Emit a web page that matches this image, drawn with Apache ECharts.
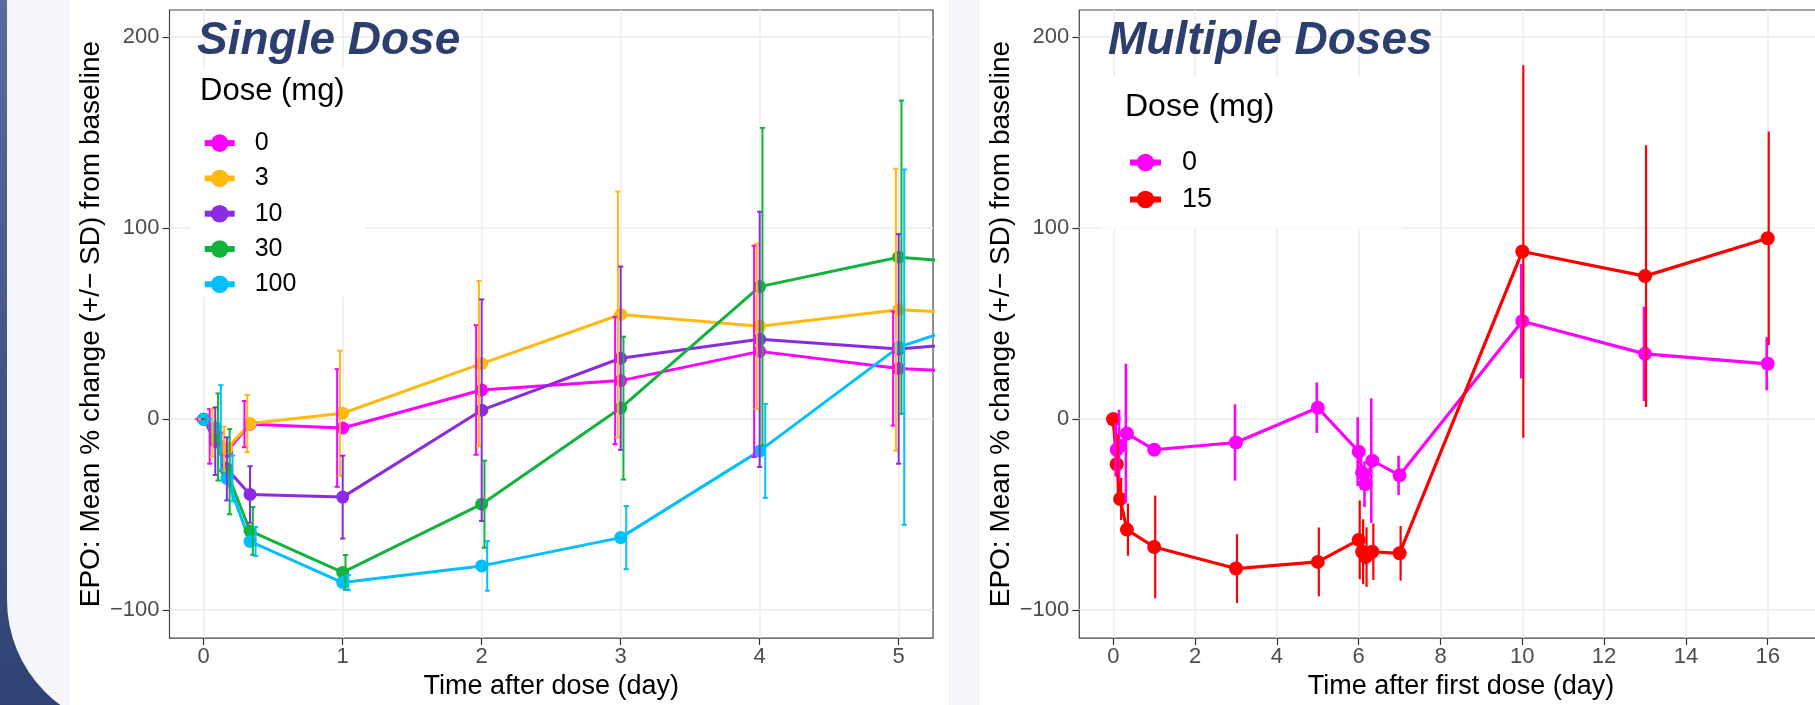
<!DOCTYPE html>
<html>
<head>
<meta charset="utf-8">
<script src="https://cdn.jsdelivr.net/npm/echarts@6/dist/echarts.min.js"></script>
<style>
html,body{margin:0;padding:0;background:#fff;overflow:hidden;width:1815px;height:705px;}
#chart{width:1870px;height:705px;}
</style>
</head>
<body>
<div id="chart"></div>
<script>
// ---------- DATA ----------
// Single dose panel
const singleDoses = ['0', '3', '10', '30', '100'];
const singleTimes = [0, 0.0833, 0.1667, 0.3333, 1, 2, 3, 4, 5, 7];
const single0Mean   = [0, -9,   -17,  -2.6, -4.6, 15.3, 20.2, 35.5, 26.5, 19.8];
const single0SD     = [0, 14.3, 10,   12.1, 30.8, 33.9, 33.3, 55.3, 29.9, 25];
const single3Mean   = [0, -7,   -15.4, -2.3, 3.1, 29.1, 54.8, 48.6, 57.3, 50];
const single3SD     = [0, 12.5, 11.5, 15,   32.7, 43.3, 64.3, 43.2, 73.8, 60];
const single10Mean  = [0, -11.5, -26, -39.4, -40.8, 4.7, 31.9, 41.8, 36.8, 48];
const single10SD    = [0, 17.7, 16.5, 14.8, 21.7, 58,   48,   66.8, 60.1, 60];
const single30Mean  = [0, -9.3, -27.5, -58.5, -80.2, -44.5, 5.8, 69.4, 84.8, 74];
const single30SD    = [0, 22.8, 22.3, 12.5, 9.1,  22.8, 37.4, 83.1, 82,   80];
const single100Mean = [0, -4.3, -31,  -64,  -85.5, -76.8, -62, -16.6, 37.7, 86];
const single100SD   = [0, 22.1, 12,   7.6,  4,    13,   16.5, 24.6, 93,   90];

// Multiple doses panel
const multiDoses = ['0', '15'];
const multiTimes = [0, 0.0833, 0.1667, 0.3333, 1, 3, 5, 6, 6.0833, 6.1667, 6.3333, 7, 10, 13, 16];
const multi0Mean  = [0, -16, -14, -7.5, -16, -12.2, 6, -17, -28, -34, -21.7, -29.4, 51.3, 34.2, 29];
const multi0SD    = [0, 14, 19, 36.5, 2, 20, 13.2, 18, 9, 12, 32.6, 10.3, 30, 24.7, 13.9];
const multi15Mean = [0, -23.6, -41.8, -57.8, -66.9, -78.2, -74.7, -63.2, -69.4, -72.2, -69.4, -70.2, 87.8, 74.9, 94.7];
const multi15SD   = [0, 16, 11, 13.7, 26.9, 18, 18, 20.6, 17, 15.6, 14.8, 14.3, 97.5, 68.5, 55.9];

// Tick labels
const singleXTicks = [0, 1, 2, 3, 4, 5];
const multiXTicks = [0, 2, 4, 6, 8, 10, 12, 14, 16];
const yTicks = [-100, 0, 100, 200];

// ---------- STYLE ----------
const FONT = '"Liberation Sans", Arial, Helvetica, sans-serif';
const singleColors = ['#ff00ff', '#ffb90f', '#8a2be2', '#11b33c', '#00bfff'];
const multiColors = ['#ff00ff', '#ff0000'];
const TITLE_COLOR = '#2c3e6d';

const singleMeans = [single0Mean, single3Mean, single10Mean, single30Mean, single100Mean];
const singleSDs = [single0SD, single3SD, single10SD, single30SD, single100SD];
const multiMeans = [multi0Mean, multi15Mean];
const multiSDs = [multi0SD, multi15SD];

function minusFmt(v) { return String(v).replace('-', '\u2212'); }

function makeErrRender(color, lw, capHalf) {
  return function (params, api) {
    const x = api.value(0), lo = api.value(1), hi = api.value(2);
    const p1 = api.coord([x, lo]);
    const p2 = api.coord([x, hi]);
    const children = [{
      type: 'line',
      shape: { x1: p1[0], y1: p1[1], x2: p2[0], y2: p2[1] },
      style: { stroke: color, lineWidth: lw }
    }];
    if (capHalf > 0) {
      children.push({ type: 'line', shape: { x1: p1[0] - capHalf, y1: p1[1], x2: p1[0] + capHalf, y2: p1[1] }, style: { stroke: color, lineWidth: lw } });
      children.push({ type: 'line', shape: { x1: p2[0] - capHalf, y1: p2[1], x2: p2[0] + capHalf, y2: p2[1] }, style: { stroke: color, lineWidth: lw } });
    }
    return { type: 'group', children: children };
  };
}

const series = [];
singleDoses.forEach(function (d, i) {
  series.push({
    name: 'S' + d, type: 'line', xAxisIndex: 0, yAxisIndex: 0,
    data: singleTimes.map(function (t, k) { return [t, singleMeans[i][k]]; }),
    symbol: 'circle', symbolSize: 13, showSymbol: true,
    lineStyle: { color: singleColors[i], width: 3 },
    itemStyle: { color: singleColors[i] },
    clip: true, z: 2
  });
});
singleDoses.forEach(function (d, i) {
  const dodge = (i - 2) * 0.02;
  series.push({
    name: 'errS' + d, type: 'custom', xAxisIndex: 0, yAxisIndex: 0,
    data: singleTimes.map(function (t, k) {
      return [t + dodge, singleMeans[i][k] - singleSDs[i][k], singleMeans[i][k] + singleSDs[i][k]];
    }),
    renderItem: makeErrRender(singleColors[i], 2, 2.6),
    clip: true, z: 3, silent: true
  });
});
multiDoses.forEach(function (d, i) {
  series.push({
    name: 'M' + d, type: 'line', xAxisIndex: 1, yAxisIndex: 1,
    data: multiTimes.map(function (t, k) { return [t, multiMeans[i][k]]; }),
    symbol: 'circle', symbolSize: 14, showSymbol: true,
    lineStyle: { color: multiColors[i], width: 3.2 },
    itemStyle: { color: multiColors[i] },
    clip: true, z: 2
  });
});
multiDoses.forEach(function (d, i) {
  const dodge = (i === 0 ? -0.025 : 0.025);
  series.push({
    name: 'errM' + d, type: 'custom', xAxisIndex: 1, yAxisIndex: 1,
    data: multiTimes.map(function (t, k) {
      return [t + dodge, multiMeans[i][k] - multiSDs[i][k], multiMeans[i][k] + multiSDs[i][k]];
    }),
    renderItem: makeErrRender(multiColors[i], i === 0 ? 2.6 : 2.2, 0),
    clip: true, z: 3, silent: true
  });
});

function yAxisCfg(gi) {
  return {
    gridIndex: gi, type: 'value', min: -114.6, max: 214.2,
    name: 'EPO: Mean % change (+/\u2212 SD) from baseline',
    nameLocation: 'middle', nameGap: 64,
    nameTextStyle: { fontSize: 28, color: '#000', fontFamily: FONT },
    axisLine: { show: false, onZero: false },
    axisTick: { show: true, customValues: yTicks, length: 7, lineStyle: { color: '#333', width: 1.2 } },
    axisLabel: { customValues: yTicks, fontSize: 22, color: '#4d4d4d', fontFamily: FONT, margin: 10, formatter: minusFmt },
    splitLine: { show: true, lineStyle: { color: '#ebebeb', width: 1.5 } }
  };
}
function xAxisCfg(gi, min, max, ticks, name) {
  return {
    gridIndex: gi, type: 'value', min: min, max: max,
    name: name, nameLocation: 'middle', nameGap: 32,
    nameTextStyle: { fontSize: 27, color: '#000', fontFamily: FONT },
    axisLine: { show: false, onZero: false },
    axisTick: { show: true, customValues: ticks, length: 7, lineStyle: { color: '#333', width: 1.2 } },
    axisLabel: { customValues: ticks, fontSize: 22, color: '#4d4d4d', fontFamily: FONT, margin: 8, formatter: minusFmt },
    splitLine: { show: true, lineStyle: { color: '#ebebeb', width: 1.5 } }
  };
}

const option = {
  animation: false,
  backgroundColor: 'transparent',
  graphic: [
    { type: 'rect', z: -20, shape: { x: 0, y: 0, width: 90, height: 705 },
      style: { fill: new echarts.graphic.LinearGradient(0, 0, 0, 1, [{ offset: 0, color: '#5b6b9b' }, { offset: 1, color: '#2f4274' }]) } },
    { type: 'rect', z: -19, shape: { x: 7, y: -40, width: 1000, height: 770, r: [0, 0, 0, 130] }, style: { fill: '#f4f6fb' } },
    { type: 'rect', z: -18, shape: { x: 70, y: 0, width: 878, height: 705 }, style: { fill: '#ffffff' } },
    { type: 'rect', z: -18, shape: { x: 980, y: 0, width: 890, height: 705 }, style: { fill: '#ffffff' } },
    { type: 'text', z: 50, style: { x: 197, y: 41, text: 'Single Dose', fill: TITLE_COLOR, font: 'italic bold 46px ' + FONT, verticalAlign: 'middle' } },
    { type: 'text', z: 50, style: { x: 1108, y: 41, text: 'Multiple Doses', fill: TITLE_COLOR, font: 'italic bold 46px ' + FONT, verticalAlign: 'middle' } },
    { type: 'text', z: 50, style: { x: 200, y: 91, text: 'Dose (mg)', fill: '#000', font: '31px ' + FONT, verticalAlign: 'middle' } },
    { type: 'text', z: 50, style: { x: 1125, y: 107, text: 'Dose (mg)', fill: '#000', font: '32px ' + FONT, verticalAlign: 'middle' } }
  ],
  grid: [
    { left: 169.5, top: 10, width: 763.5, height: 631, show: true, borderColor: '#444', borderWidth: 1.2, backgroundColor: 'transparent', containLabel: false },
    { left: 1079.3, top: 10, width: 763.5, height: 631, show: true, borderColor: '#444', borderWidth: 1.2, backgroundColor: 'transparent', containLabel: false }
  ],
  xAxis: [
    xAxisCfg(0, -0.246, 5.247, singleXTicks, 'Time after dose (day)'),
    xAxisCfg(1, -0.831, 17.836, multiXTicks, 'Time after first dose (day)')
  ],
  yAxis: [yAxisCfg(0), yAxisCfg(1)],
  legend: [
    {
      orient: 'vertical', left: 190, top: 68,
      data: singleDoses.map(function (d) { return 'S' + d; }),
      formatter: function (n) { return n.slice(1); },
      backgroundColor: '#fff', borderWidth: 0,
      padding: [62.6, 67, 0, 11.7],
      itemWidth: 30, itemHeight: 22, itemGap: 10.3,
      lineStyle: { width: 6 },
      textStyle: { fontSize: 25, lineHeight: 25, color: '#000', fontFamily: FONT, padding: [0, 0, 0, 15] },
      selectedMode: false
    },
    {
      orient: 'vertical', left: 1100, top: 77,
      data: multiDoses.map(function (d) { return 'M' + d; }),
      formatter: function (n) { return n.slice(1); },
      backgroundColor: '#fff', borderWidth: 0,
      padding: [72, 191, 15.5, 27],
      itemWidth: 31, itemHeight: 22, itemGap: 10,
      lineStyle: { width: 6 },
      textStyle: { fontSize: 27, lineHeight: 27, color: '#000', fontFamily: FONT, padding: [0, 0, 0, 16] },
      selectedMode: false
    }
  ],
  series: series
};

const chart = echarts.init(document.getElementById('chart'), null, { renderer: 'canvas', width: 1870, height: 705 });
chart.setOption(option);
</script>
</body>
</html>
